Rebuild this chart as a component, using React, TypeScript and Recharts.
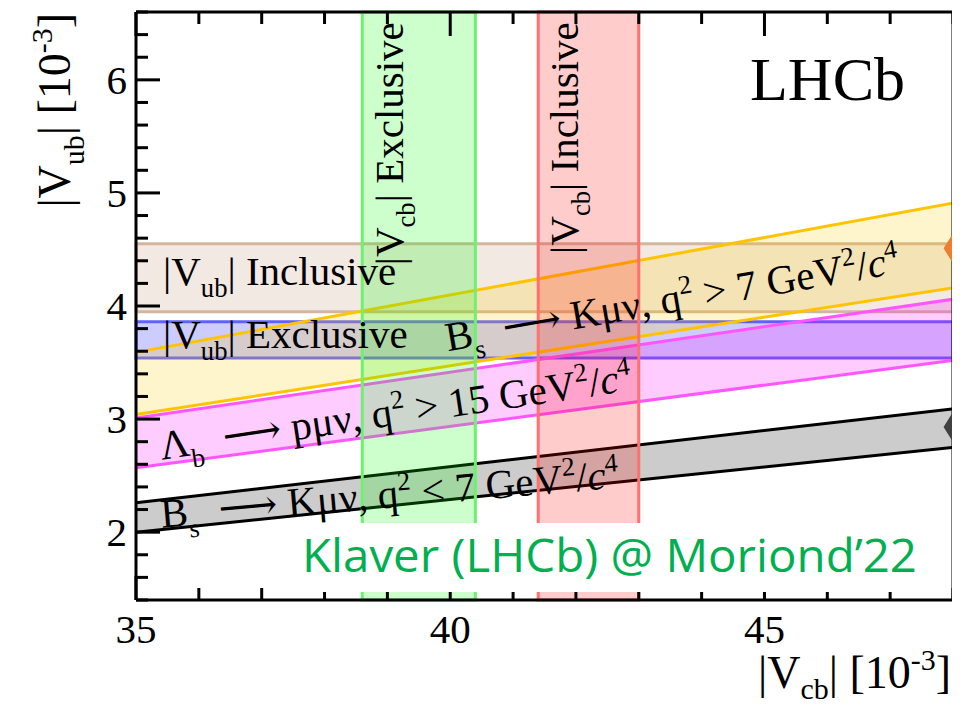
import { ComposedChart, Area, XAxis, YAxis, ReferenceArea, ReferenceDot } from 'recharts';

// |Vcb| end points of the sloped bands [10^-3]
const vcbEnds = [35, 48];

// Bs -> K mu nu, q2 > 7 GeV2/c4  (lower / upper |Vub| edge at each end)
const bsHighQ2Low = [3.04, 4.16];
const bsHighQ2High = [3.59, 4.91];
// Lambda_b -> p mu nu, q2 > 15 GeV2/c4
const lbLow = [2.57, 3.52];
const lbHigh = [3.01, 4.06];
// Bs -> K mu nu, q2 < 7 GeV2/c4
const bsLowQ2Low = [2.0, 2.75];
const bsLowQ2High = [2.26, 3.09];

// horizontal |Vub| averages
const vubInclusive = [3.95, 4.55];
const vubExclusive = [3.54, 3.86];
// vertical |Vcb| averages
const vcbExclusive = [38.6, 40.4];
const vcbInclusive = [41.4, 43.0];

// points sitting just past the right frame
const pointVcb = [48.2, 48.2];
const pointVub = [4.51, 2.93];
const pointColors = ['#ed7d31', '#404040'];

const xTicks = [35, 36, 37, 38, 39, 40, 41, 42, 43, 44, 45, 46, 47, 48];
const yTicks = [
  1.4, 1.6, 1.8, 2.0, 2.2, 2.4, 2.6, 2.8, 3.0, 3.2, 3.4, 3.6, 3.8, 4.0,
  4.2, 4.4, 4.6, 4.8, 5.0, 5.2, 5.4, 5.6, 5.8, 6.0, 6.2, 6.4, 6.6,
];

const bandRows = vcbEnds.map((vcb, i) => ({
  vcb,
  bsHigh: [bsHighQ2Low[i], bsHighQ2High[i]],
  lb: [lbLow[i], lbHigh[i]],
  bsLow: [bsLowQ2Low[i], bsLowQ2High[i]],
}));

const SERIF = '"Liberation Serif", "Times New Roman", serif';
const FS = 41;

type Part = [string, ('n' | 'sub' | 'sup' | 'it' | 'arrow')?];

// tspans with sub/superscripts, shifts are undone for the next part
function rich(parts: Part[], size: number, subShift = 0.3) {
  let shift = 0;
  return parts.map(([t, k = 'n'], i) => {
    const target = k === 'sub' ? size * subShift : k === 'sup' ? -size * 0.4 : 0;
    const dy = target - shift;
    shift = target;
    const small = k === 'sub' || k === 'sup';
    return (
      <tspan
        key={i}
        dy={dy}
        fontSize={small ? size * 0.65 : size}
        fontStyle={k === 'it' ? 'italic' : undefined}
        fontFamily={k === 'arrow' ? '"DejaVu Serif", serif' : undefined}
      >
        {t}
      </tspan>
    );
  });
}

function XTick({ x, y, payload, side }: any) {
  const v = payload.value;
  const major = v % 5 === 0;
  const len = major ? 24 : 12;
  const dir = side === 'bottom' ? -1 : 1;
  return (
    <g>
      <line x1={x} y1={y} x2={x} y2={y + dir * len} stroke="#000" strokeWidth={3} />
      {side === 'bottom' && major && (
        <text x={x} y={y + 43} textAnchor="middle" fontFamily={SERIF} fontSize={FS} fill="#000">
          {v}
        </text>
      )}
    </g>
  );
}

function YTick({ x, y, payload, side }: any) {
  const v = payload.value;
  const major = Math.abs(v - Math.round(v)) < 1e-6;
  const len = major ? 24 : 12;
  const dir = side === 'left' ? 1 : -1;
  return (
    <g>
      <line x1={x} y1={y} x2={x + dir * len} y2={y} stroke="#000" strokeWidth={3} />
      {side === 'left' && major && (
        <text x={x - 9} y={y + 14} textAnchor="end" fontFamily={SERIF} fontSize={FS} fill="#000">
          {Math.round(v)}
        </text>
      )}
    </g>
  );
}

const label = (parts: Part[], angle: number, anchor: 'start' | 'end' = 'start') => (p: any) => (
  <text
    x={p.cx}
    y={p.cy}
    transform={`rotate(${angle} ${p.cx} ${p.cy})`}
    fontFamily={SERIF}
    fontSize={FS}
    fill="#000"
    textAnchor={anchor}
    style={{ whiteSpace: 'pre' }}
  >
    {rich(parts, FS)}
  </text>
);

const diamond = (color: string) => (p: any) => (
  <polygon
    points={`${p.cx - 22},${p.cy} ${p.cx},${p.cy - 35} ${p.cx + 22},${p.cy} ${p.cx},${p.cy + 35}`}
    fill={color}
  />
);

const axisStyle = { stroke: '#000', strokeWidth: 3 };
const ARROW = '\u27f6';

export default function App() {
  const ax = { xAxisId: 'b', yAxisId: 'l' };
  return (
    <div style={{ position: 'relative', width: 960, height: 710, margin: -8, background: '#fff' }}>
      <ComposedChart
        width={960}
        height={710}
        data={bandRows}
        margin={{ top: 11, right: 6, bottom: 109, left: 135 }}
        style={{ overflow: 'visible' }}
      >
        <ReferenceArea {...ax} y1={vubInclusive[0]} y2={vubInclusive[1]} fill="#d4b69e" fillOpacity={0.3} stroke="#d4b69e" strokeWidth={3} />
        <ReferenceArea {...ax} y1={vubExclusive[0]} y2={vubExclusive[1]} fill="#0000ff" fillOpacity={0.2} stroke="#6060ff" strokeWidth={3} />

        <Area {...ax} type="linear" dataKey="bsHigh" stroke="#ffc400" strokeWidth={3} fill="#ffcc00" fillOpacity={0.2} dot={false} activeDot={false} isAnimationActive={false} />
        <Area {...ax} type="linear" dataKey="lb" stroke="#ff55ff" strokeWidth={3} fill="#ff00ff" fillOpacity={0.2} dot={false} activeDot={false} isAnimationActive={false} />
        <Area {...ax} type="linear" dataKey="bsLow" stroke="#000" strokeWidth={3} fill="#000" fillOpacity={0.2} dot={false} activeDot={false} isAnimationActive={false} />

        <ReferenceArea {...ax} x1={vcbExclusive[0]} x2={vcbExclusive[1]} fill="#00ff00" fillOpacity={0.2} stroke="#70f070" strokeWidth={3} />
        <ReferenceArea {...ax} x1={vcbInclusive[0]} x2={vcbInclusive[1]} fill="#ff0000" fillOpacity={0.2} stroke="#ff7070" strokeWidth={3} />

        <XAxis
          xAxisId="b"
          type="number"
          dataKey="vcb"
          domain={[35, 48]}
          ticks={xTicks}
          interval={0}
          height={1}
          tickSize={0}
          tickMargin={0}
          tickLine={false}
          axisLine={axisStyle}
          tick={(p: any) => <XTick {...p} side="bottom" />}
        />
        <XAxis
          xAxisId="t"
          orientation="top"
          type="number"
          dataKey="vcb"
          domain={[35, 48]}
          ticks={xTicks}
          interval={0}
          height={1}
          tickSize={0}
          tickMargin={0}
          tickLine={false}
          axisLine={axisStyle}
          tick={(p: any) => <XTick {...p} side="top" />}
        />
        <YAxis
          yAxisId="l"
          type="number"
          domain={[1.4, 6.6]}
          ticks={yTicks}
          interval={0}
          width={1}
          tickSize={0}
          tickMargin={0}
          tickLine={false}
          axisLine={axisStyle}
          tick={(p: any) => <YTick {...p} side="left" />}
        />
        <YAxis
          yAxisId="r"
          orientation="right"
          type="number"
          domain={[1.4, 6.6]}
          ticks={yTicks}
          interval={0}
          width={1}
          tickSize={0}
          tickMargin={0}
          tickLine={false}
          axisLine={axisStyle}
          tick={(p: any) => <YTick {...p} side="right" />}
        />

        {pointVcb.map((v, i) => (
          <ReferenceDot key={i} {...ax} x={v} y={pointVub[i]} r={0} ifOverflow="visible" shape={diamond(pointColors[i])} />
        ))}

        <ReferenceDot {...ax} x={35.43} y={4.19} r={0} ifOverflow="visible" shape={label([['|V'], ['ub', 'sub'], ['| Inclusive']], 0)} />
        <ReferenceDot {...ax} x={35.43} y={3.63} r={0} ifOverflow="visible" shape={label([['|V'], ['ub', 'sub'], ['| Exclusive']], 0)} />
        <ReferenceDot
          {...ax}
          x={39.96}
          y={3.6}
          r={0}
          ifOverflow="visible"
          shape={label([['B'], ['s', 'sub'], ['  '], [ARROW, 'arrow'], [' K\u03bc\u03bd, q'], ['2', 'sup'], [' > 7 GeV'], ['2', 'sup'], ['/'], ['c', 'it'], ['4', 'sup']], -9.8)}
        />
        <ReferenceDot
          {...ax}
          x={35.41}
          y={2.64}
          r={0}
          ifOverflow="visible"
          shape={label([['\u039b'], ['b', 'sub'], ['  '], [ARROW, 'arrow'], [' p\u03bc\u03bd, q'], ['2', 'sup'], [' > 15 GeV'], ['2', 'sup'], ['/'], ['c', 'it'], ['4', 'sup']], -8.4)}
        />
        <ReferenceDot
          {...ax}
          x={35.41}
          y={2.04}
          r={0}
          ifOverflow="visible"
          shape={label([['B'], ['s', 'sub'], ['  '], [ARROW, 'arrow'], [' K\u03bc\u03bd, q'], ['2', 'sup'], [' < 7 GeV'], ['2', 'sup'], ['/'], ['c', 'it'], ['4', 'sup']], -5)}
        />
        <ReferenceDot {...ax} x={39.25} y={6.51} r={0} ifOverflow="visible" shape={label([['|V'], ['cb', 'sub'], ['| Exclusive']], -90, 'end')} />
        <ReferenceDot {...ax} x={42.03} y={6.51} r={0} ifOverflow="visible" shape={label([['|V'], ['cb', 'sub'], ['| Inclusive']], -90, 'end')} />
      </ComposedChart>

      <svg width={960} height={710} style={{ position: 'absolute', left: 0, top: 0, pointerEvents: 'none' }}>
        <rect x={296} y={523} width={640} height={69} fill="#fff" />
        <text x={302} y={572} fontFamily='"Open Sans", "Noto Sans", sans-serif' fontSize={46} fill="#00b050" textLength={615} lengthAdjust="spacingAndGlyphs">
          Klaver (LHCb) @ Moriond’22
        </text>
        <text x={905} y={100} textAnchor="end" fontFamily={SERIF} fontSize={62} fill="#000">
          LHCb
        </text>
        <text x={70} y={13} textAnchor="end" transform="rotate(-90 70 13)" fontFamily={SERIF} fontSize={46} fill="#000" style={{ whiteSpace: 'pre' }}>
          {rich([['|V'], ['ub', 'sub'], ['| [10'], ['-3', 'sup'], [']']], 46)}
        </text>
        <text x={951} y={688} textAnchor="end" fontFamily={SERIF} fontSize={46} fill="#000" style={{ whiteSpace: 'pre' }}>
          {rich([['|V'], ['cb', 'sub'], ['| [10'], ['-3', 'sup'], [']']], 46, 0.24)}
        </text>
      </svg>
    </div>
  );
}
